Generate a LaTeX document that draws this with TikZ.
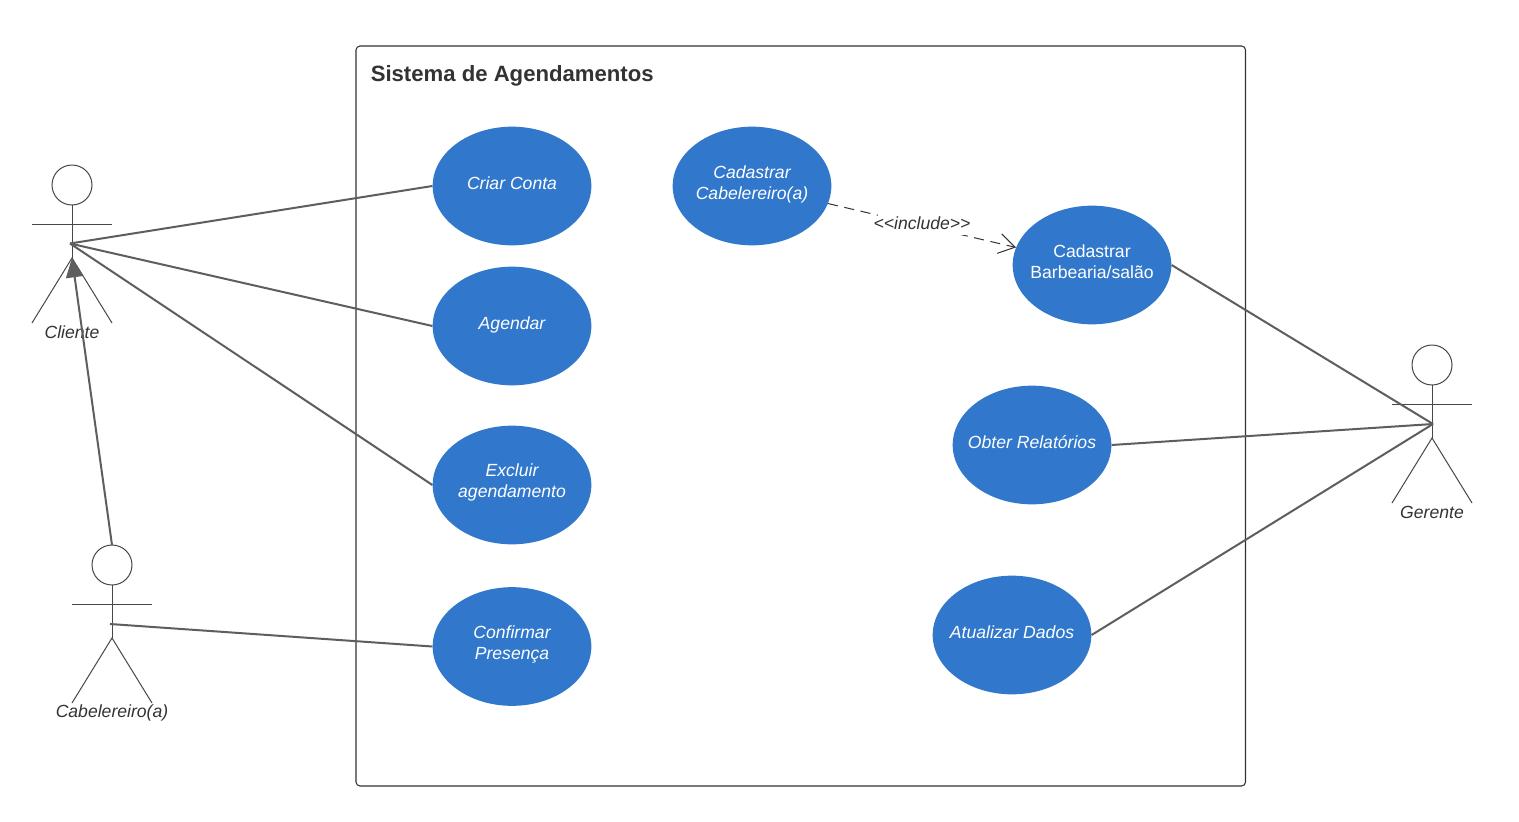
\documentclass[tikz,border=0pt]{standalone}
\usepackage{fontspec}
\setsansfont{Liberation Sans}
\usetikzlibrary{arrows.meta,shapes.geometric}
\definecolor{lineg}{HTML}{5E5E5E}
\definecolor{ucblue}{HTML}{3178CC}
\definecolor{txt}{HTML}{333333}
\tikzset{x=0.75pt,y=-0.75pt,
 usecase/.style={ellipse,draw=none,fill=ucblue,minimum width=119pt,minimum height=89pt,inner sep=0pt},
 uclabel/.style={text=white,align=center,inner sep=0pt,font=\sffamily\itshape\fontsize{13.2}{15.7}\selectfont},
 uclabelup/.style={text=white,align=center,inner sep=0pt,font=\sffamily\fontsize{13.2}{15.7}\selectfont},
 assoc/.style={draw=lineg,line width=1.5pt},
 actorline/.style={draw=txt!90!white,line width=0.75pt},
 actorlabel/.style={text=txt,font=\sffamily\itshape\fontsize{13.2}{15}\selectfont,inner sep=0pt},
}
\newcommand{\actor}[5]{% name, x, y of head centre, connection point
 \draw[actorline] (#2,#3) circle (20);
 \draw[actorline] (#2,#3+20) -- (#2,#3+73);
 \draw[actorline] (#2-40,#3+39) -- (#2+40,#3+39);
 \draw[actorline] (#2-40,#3+138) -- (#2,#3+73) -- (#2+40,#3+138);
 \coordinate (#1) at (#4,#5);
}
\begin{document}
\begin{tikzpicture}
\useasboundingbox (0,0) rectangle (1519,821);
\fill[white] (0,0) rectangle (1519,821);
\draw[draw=txt,line width=0.8pt,rounded corners=3pt,fill=white] (356,46) rectangle (1245.5,786);
\node[anchor=west,inner sep=0pt,text=txt,font=\sffamily\bfseries\fontsize{16.6}{20}\selectfont] (title) at (370.5,76) {Sistema de Agendamentos};
\actor{cliente}{72}{185}{70}{243.5}
\actor{cabel}{112}{565}{110}{624}
\actor{gerente}{1432}{365}{1433}{424}
\node[actorlabel] (lc) at (72,332.5) {Cliente};
\node[actorlabel] (lb) at (112,713) {Cabelereiro(a)};
\node[actorlabel] (lg) at (1432,512.5) {Gerente};
\node[usecase,label={[uclabel,yshift=2.25pt]center:Criar Conta}] (criar) at (512,186) {};
\node[usecase,label={[uclabel,yshift=0.75pt]center:Agendar}] (agendar) at (512,326) {};
\node[usecase,label={[uclabel,yshift=2.25pt]center:Excluir\\agendamento}] (excluir) at (512,485) {};
\node[usecase,label={[uclabel,yshift=1.5pt]center:Confirmar\\Presença}] (confirmar) at (512,646.5) {};
\node[usecase,label={[uclabel,yshift=1.5pt]center:Cadastrar\\Cabelereiro(a)}] (cadcab) at (752,186) {};
\node[usecase,label={[uclabelup,yshift=2.25pt]center:Cadastrar\\Barbearia/salão}] (cadbar) at (1092,265) {};
\node[usecase,label={[uclabel,yshift=2.25pt]center:Obter Relatórios}] (obter) at (1032,445) {};
\node[usecase,label={[uclabel,yshift=2.25pt]center:Atualizar Dados}] (atual) at (1012,635) {};
\draw[assoc] (cliente) -- (criar.west);
\draw[assoc] (cliente) -- (agendar.west);
\draw[assoc] (cliente) -- (excluir.west);
\draw[assoc] (cabel) -- (confirmar.west);
\draw[assoc] (cadbar.east) -- (gerente);
\draw[assoc] (obter.east) -- (gerente);
\draw[assoc] (atual.east) -- (gerente);
\coordinate (cabtop) at (112,545);
\coordinate (clibot) at (72,258);
\draw[assoc,-{Triangle[length=14.5pt,width=13pt,fill=lineg]}] (cabtop) -- (clibot);
\draw[draw=txt,line width=0.75pt,dash pattern=on 7.5pt off 5pt,-{Straight Barb[length=12pt,width=15pt]}] (cadcab.-13) -- (cadbar.167);
\node[fill=white,inner xsep=-3pt,inner ysep=4pt,text=txt,font=\sffamily\itshape\fontsize{13.2}{15}\selectfont] (inc) at (922,223.5) {<\kern0pt<include>\kern0pt>};
\end{tikzpicture}
\end{document}
